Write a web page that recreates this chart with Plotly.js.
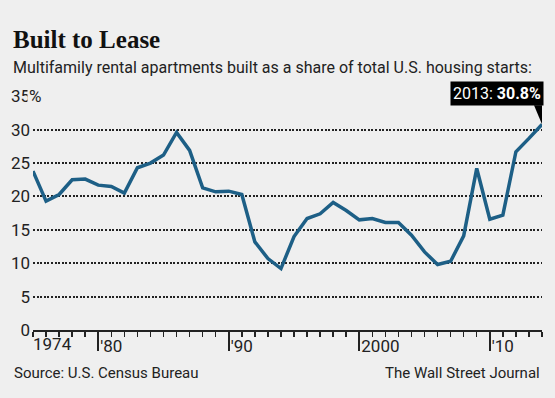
<!DOCTYPE html>
<html>
<head>
<meta charset="utf-8">
<script src="https://cdn.plot.ly/plotly-3.0.1.min.js"></script>
<style>
  html, body { margin: 0; padding: 0; background: #efefef; }
  #chart { width: 555px; height: 398px; }
</style>
</head>
<body>
<div id="chart"></div>
<script>
// ---- data ----
const years = [1974, 1975, 1976, 1977, 1978, 1979, 1980, 1981, 1982, 1983,
               1984, 1985, 1986, 1987, 1988, 1989, 1990, 1991, 1992, 1993,
               1994, 1995, 1996, 1997, 1998, 1999, 2000, 2001, 2002, 2003,
               2004, 2005, 2006, 2007, 2008, 2009, 2010, 2011, 2012, 2013];
const sharePct = [23.8, 19.3, 20.3, 22.5, 22.6, 21.7, 21.5, 20.5, 24.3, 25.0,
                  26.2, 29.6, 26.9, 21.3, 20.7, 20.8, 20.3, 13.2, 10.7, 9.2,
                  14.0, 16.7, 17.4, 19.1, 17.9, 16.5, 16.7, 16.1, 16.1, 14.2,
                  11.7, 9.8, 10.3, 14.1, 24.2, 16.6, 17.2, 26.7, 28.7, 30.8];
const xTickVals = [1980, 1990, 2000, 2010];
const xTickText = ["'80", "'90", "2000", "'10"];
const firstYearLabel = "1974";
const yTickVals = [0, 5, 10, 15, 20, 25, 30, 35];
const yTickText = ["0", "5", "10", "15", "20", "25", "30", "35"];

const titleText = "Built to Lease";
const subtitleText = "Multifamily rental apartments built as a share of total U.S. housing starts:";
const sourceText = "Source: U.S. Census Bureau";
const creditText = "The Wall Street Journal";

// each year's value is plotted at the end of that year (as in the original)
const xs = years.map(y => y + 1);
const last = years.length - 1;

const BG = '#efefef';
const INK = '#222222';
const LINE = '#1d5f86';
const NARROW = 'Roboto, "DejaVu Sans Condensed", sans-serif';

const trace = {
  x: xs, y: sharePct, type: 'scatter', mode: 'lines',
  line: { color: LINE, width: 3.5 },
  hoverinfo: 'skip', cliponaxis: false
};

const layout = {
  width: 555, height: 398,
  paper_bgcolor: BG, plot_bgcolor: BG,
  margin: { l: 33, r: 13, t: 96, b: 68, pad: 0 },
  showlegend: false,
  font: { family: NARROW, color: INK, size: 16 },
  xaxis: {
    range: [xs[0], xs[last]],
    showgrid: false, zeroline: false,
    showline: true, linecolor: INK, linewidth: 2,
    tickmode: 'array', tickvals: xTickVals, ticktext: xTickText,
    ticks: 'outside', ticklen: 19, tickwidth: 2, tickcolor: INK,
    ticklabelposition: 'outside right', ticklabelstandoff: 0,
    tickfont: { family: NARROW, size: 17, color: INK },
    minor: { tickmode: 'linear', tick0: xs[0], dtick: 1, ticks: 'outside',
             ticklen: 5, tickwidth: 1.5, tickcolor: INK, showgrid: false },
    fixedrange: true
  },
  yaxis: {
    range: [0, 35.05],
    tickmode: 'array', tickvals: yTickVals, ticktext: yTickText,
    ticks: '', showline: false, zeroline: false,
    showgrid: true, gridcolor: '#222222', gridwidth: 2, griddash: '2px,1.6px',
    tickfont: { family: NARROW, size: 17, color: INK },
    ticklabelstandoff: 2,
    fixedrange: true
  },
  annotations: [
    { text: '<b>' + titleText + '</b>', xref: 'paper', yref: 'paper',
      x: 0, xshift: -22, xanchor: 'left', y: 1.24, yanchor: 'middle',
      showarrow: false,
      font: { family: '"Liberation Serif", "DejaVu Serif", serif', size: 25, color: '#111' } },
    { text: subtitleText, xref: 'paper', yref: 'paper',
      x: 0, xshift: -22, xanchor: 'left', y: 1.12, yanchor: 'middle',
      showarrow: false, font: { family: NARROW, size: 16, color: INK } },
    { text: sourceText, xref: 'paper', yref: 'paper',
      x: 0, xshift: -21, xanchor: 'left', y: -0.184, yanchor: 'middle',
      showarrow: false, font: { family: NARROW, size: 15, color: INK } },
    { text: creditText, xref: 'paper', yref: 'paper',
      x: 1, xanchor: 'right', y: -0.184, yanchor: 'middle',
      showarrow: false, font: { family: NARROW, size: 15, color: INK } },
    { text: firstYearLabel, xref: 'x', yref: 'paper',
      x: xs[0], xanchor: 'left', xshift: -2, y: 0, yanchor: 'top', yshift: -2,
      showarrow: false, font: { family: NARROW, size: 17, color: INK } },
    { text: '%', xref: 'paper', yref: 'y',
      x: 0, xanchor: 'left', xshift: -6, y: yTickVals[yTickVals.length - 1], yanchor: 'middle',
      showarrow: false, bgcolor: BG, borderpad: 1,
      font: { family: NARROW, size: 17, color: INK } },
    { text: years[last] + ': <b>' + sharePct[last].toFixed(1) + '%</b>',
      xref: 'x', yref: 'y', x: xs[last], y: sharePct[last],
      xanchor: 'right', yanchor: 'bottom', xshift: 2, yshift: 18,
      showarrow: false, bgcolor: '#000000', borderpad: 2,
      font: { family: NARROW, size: 16, color: '#ffffff' } }
  ],
  shapes: [
    { type: 'path', xref: 'x', yref: 'y', xsizemode: 'pixel', ysizemode: 'pixel',
      xanchor: xs[last], yanchor: sharePct[last],
      path: 'M0,0 L-8,19 L1,19 Z', fillcolor: '#000000', line: { width: 0 } }
  ]
};

Plotly.newPlot('chart', [trace], layout, { staticPlot: true, displayModeBar: false });
</script>
</body>
</html>
